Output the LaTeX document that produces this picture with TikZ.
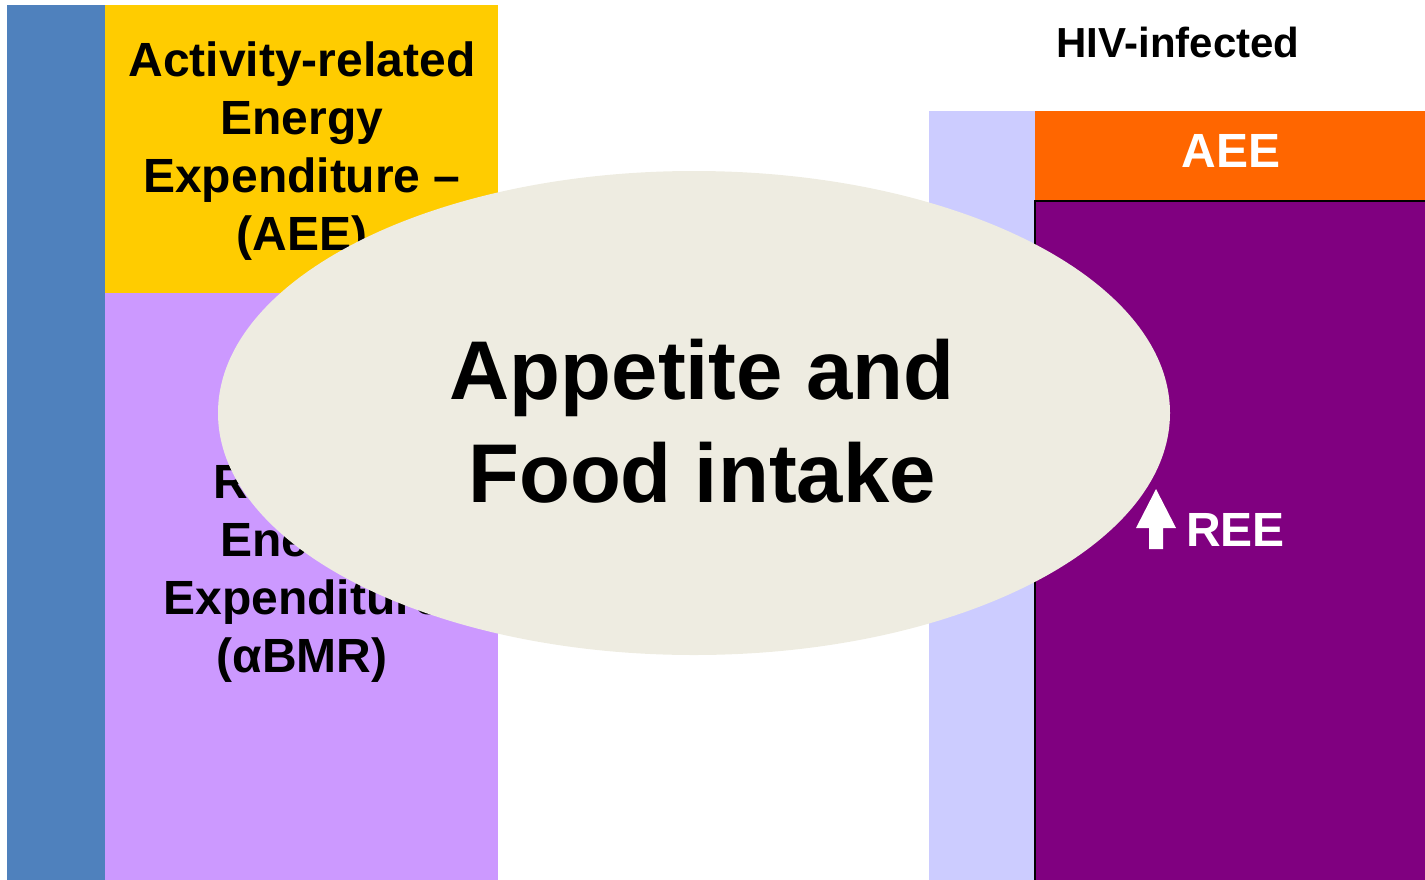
\documentclass[tikz,border=0pt]{standalone}
\usepackage{fontspec}
\setmainfont{Liberation Sans}
\usetikzlibrary{shapes.geometric}
\definecolor{barblue}{HTML}{4F81BD}
\definecolor{aeeyellow}{HTML}{FFCC00}
\definecolor{reelav}{HTML}{CC99FF}
\definecolor{peri}{HTML}{CCCCFF}
\definecolor{aeeorange}{HTML}{FF6600}
\definecolor{reepurple}{HTML}{800080}
\definecolor{ovalbeige}{HTML}{EEECE1}
\begin{document}
\begin{tikzpicture}[x=0.75pt,y=-0.75pt,
  midtext/.style={font=\bfseries\fontsize{36}{43.5}\selectfont, align=center, inner sep=0pt},
  bigtext/.style={font=\bfseries\fontsize{62.5}{77.3}\selectfont, align=center, inner sep=0pt},
  whitetext/.style={font=\bfseries\fontsize{36}{43.5}\selectfont, text=white, inner sep=0pt}]
\useasboundingbox (0,0) rectangle (1425,879);
\clip (0,0) rectangle (1425,879);
% left column
\fill[barblue] (7,5) rectangle (105,885);
\fill[aeeyellow] (105,5) rectangle (498,293);
\fill[reelav] (105,293) rectangle (498,885);
\node[midtext] (aee) at (302,151) {Activity-related\\Energy\\Expenditure --\\(AEE)};
\node[midtext] (ree) at (302,573) {Resting\\Energy\\Expenditure\\(αBMR)};
% right column
\node[font=\bfseries\fontsize{31.5}{37}\selectfont, anchor=base, inner sep=0pt] (hiv) at (1178,57) {HIV-infected};
\fill[peri] (929,111) rectangle (1035,885);
\fill[aeeorange] (1035,111) rectangle (1430,201);
\filldraw[fill=reepurple, draw=black, line width=1.1pt] (1035,201) rectangle (1440,895);
\node[whitetext, anchor=base] (aee2) at (1231,167) {AEE};
% oval
\node[ellipse, fill=ovalbeige, minimum width=714pt, minimum height=363pt, inner sep=0pt] (oval) at (694,413) {};
\node[bigtext] (appetite) at (702,421) {Appetite and\\Food intake};
% REE with arrow
\fill[white] (1156,489) -- (1176,528) -- (1163,528) -- (1163,549) -- (1149,549) -- (1149,528) -- (1136,528) -- cycle;
\node[whitetext, anchor=base west] (ree2) at (1186,546) {REE};
\end{tikzpicture}
\end{document}
